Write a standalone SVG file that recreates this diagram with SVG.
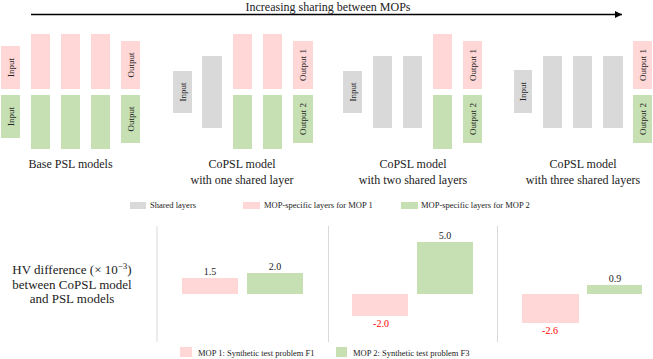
<svg xmlns="http://www.w3.org/2000/svg" width="653" height="359" viewBox="0 0 653 359">
<style>
text{font-family:'Liberation Serif','Tinos','DejaVu Serif','Times New Roman',Times,serif;fill:#222}
.pk{fill:#FFD7D7}
.gn{fill:#C6E0B4}
.gy{fill:#D9D9D9}
.bt{font-size:9px;text-anchor:middle}
.lb{font-size:12px;text-anchor:middle}
.lg{font-size:8.5px}
.val{font-size:10px;text-anchor:middle}
.neg{fill:#FF0000}
.sep{stroke:#D9D9D9;stroke-width:1}
</style>
<defs>
<marker id="ah" viewBox="0 0 10 10" refX="10" refY="5" markerWidth="8" markerHeight="7" markerUnits="userSpaceOnUse" orient="auto">
<path d="M0,0 L10,5 L0,10 z" fill="#000"/>
</marker>
</defs>
<rect width="653" height="359" fill="#fff"/>

<g id="connectors">
<line x1="31" y1="14.5" x2="622" y2="14.5" stroke="#000" stroke-width="1.3" marker-end="url(#ah)"/>
</g>
<text x="328" y="10.5" font-family="Liberation Serif" style="font-size:12px;text-anchor:middle">Increasing sharing between MOPs</text>

<g id="base-psl">
<rect class="pk" x="1" y="46" width="19" height="43"/>
<text class="bt" transform="translate(10.5,67.5) rotate(-90)" y="3">Input</text>
<rect class="pk" x="31" y="34" width="19" height="55"/>
<rect class="pk" x="61" y="34" width="19" height="55"/>
<rect class="pk" x="91" y="34" width="19" height="55"/>
<rect class="pk" x="121" y="41" width="19" height="48"/>
<text class="bt" transform="translate(130.5,65) rotate(-90)" y="3">Output</text>
<rect class="gn" x="1" y="95" width="19" height="43"/>
<text class="bt" transform="translate(10.5,116.5) rotate(-90)" y="3">Input</text>
<rect class="gn" x="31" y="95" width="19" height="54"/>
<rect class="gn" x="61" y="95" width="19" height="54"/>
<rect class="gn" x="91" y="95" width="19" height="54"/>
<rect class="gn" x="121" y="95" width="19" height="48"/>
<text class="bt" transform="translate(130.5,119) rotate(-90)" y="3">Output</text>
<text class="lb" x="70.5" y="168">Base PSL models</text>
</g>

<g id="copsl-one">
<rect class="gy" x="173" y="71" width="19" height="42"/>
<text class="bt" transform="translate(182.5,92) rotate(-90)" y="3">Input</text>
<rect class="gy" x="202" y="56" width="20" height="72"/>
<rect class="pk" x="233" y="34" width="19" height="55"/>
<rect class="pk" x="263" y="34" width="19" height="55"/>
<rect class="pk" x="293" y="41" width="20" height="48"/>
<text class="bt" transform="translate(303,65) rotate(-90)" y="3">Output  1</text>
<rect class="gn" x="233" y="95" width="19" height="54"/>
<rect class="gn" x="263" y="95" width="19" height="54"/>
<rect class="gn" x="293" y="95" width="20" height="48"/>
<text class="bt" transform="translate(303,119) rotate(-90)" y="3">Output  2</text>
<text class="lb" x="242" y="168">CoPSL model</text>
<text class="lb" x="242" y="184">with one shared layer</text>
</g>

<g id="copsl-two">
<rect class="gy" x="343" y="71" width="19" height="42"/>
<text class="bt" transform="translate(352.5,92) rotate(-90)" y="3">Input</text>
<rect class="gy" x="373" y="56" width="19" height="72"/>
<rect class="gy" x="403" y="56" width="19" height="72"/>
<rect class="pk" x="433" y="34" width="19" height="55"/>
<rect class="pk" x="463" y="41" width="19" height="48"/>
<text class="bt" transform="translate(472.5,65) rotate(-90)" y="3">Output  1</text>
<rect class="gn" x="433" y="95" width="19" height="54"/>
<rect class="gn" x="463" y="95" width="19" height="48"/>
<text class="bt" transform="translate(472.5,119) rotate(-90)" y="3">Output  2</text>
<text class="lb" x="413" y="168">CoPSL model</text>
<text class="lb" x="413" y="184">with two shared layers</text>
</g>

<g id="copsl-three">
<rect class="gy" x="514" y="70" width="18" height="43"/>
<text class="bt" transform="translate(523,91.5) rotate(-90)" y="3">Input</text>
<rect class="gy" x="543" y="56" width="19" height="72"/>
<rect class="gy" x="573" y="56" width="19" height="72"/>
<rect class="gy" x="603" y="56" width="20" height="72"/>
<rect class="pk" x="633" y="41" width="19" height="48"/>
<text class="bt" transform="translate(642.5,65) rotate(-90)" y="3">Output  1</text>
<rect class="gn" x="633" y="95" width="19" height="48"/>
<text class="bt" transform="translate(642.5,119) rotate(-90)" y="3">Output  2</text>
<text class="lb" x="583" y="168">CoPSL model</text>
<text class="lb" x="583" y="184">with three shared layers</text>
</g>

<g id="layer-legend">
<rect class="gy" x="130" y="202" width="16" height="7"/>
<text class="lg" x="150" y="208">Shared layers</text>
<rect class="pk" x="243" y="202" width="17" height="7"/>
<text class="lg" x="264" y="208">MOP-specific layers  for MOP 1</text>
<rect class="gn" x="401" y="202" width="17" height="7"/>
<text class="lg" x="421" y="208">MOP-specific layers  for MOP 2</text>
</g>

<g id="hv-label">
<text class="lb" style="font-size:13px" x="72" y="274">HV difference (× 10<tspan dy="-5" style="font-size:9px">−3</tspan><tspan dy="5">)</tspan></text>
<text class="lb" style="font-size:13px" x="72" y="289">between CoPSL model</text>
<text class="lb" style="font-size:13px" x="72" y="303">and PSL models</text>
</g>

<g id="chart">
<line class="sep" x1="157" y1="226" x2="157" y2="342"/>
<line class="sep" x1="328.5" y1="226" x2="328.5" y2="342"/>
<line class="sep" x1="497.5" y1="226" x2="497.5" y2="342"/>
<rect class="pk" x="182" y="278" width="56" height="16"/>
<text class="val" x="210" y="275">1.5</text>
<rect class="gn" x="247" y="273" width="56" height="21"/>
<text class="val" x="275" y="270">2.0</text>
<rect class="pk" x="352" y="294" width="56" height="22"/>
<text class="val neg" x="381" y="327">-2.0</text>
<rect class="gn" x="417" y="242" width="56" height="52"/>
<text class="val" x="445" y="239">5.0</text>
<rect class="pk" x="522" y="294" width="57" height="29"/>
<text class="val neg" x="550" y="334">-2.6</text>
<rect class="gn" x="587" y="285" width="55" height="9"/>
<text class="val" x="615" y="282">0.9</text>
</g>

<g id="problem-legend">
<rect class="pk" x="180" y="347" width="12" height="10"/>
<text class="lg" x="198" y="356">MOP 1: Synthetic test problem F1</text>
<rect class="gn" x="336" y="347" width="11" height="10"/>
<text class="lg" x="353" y="356">MOP 2: Synthetic test problem F3</text>
</g>
</svg>
